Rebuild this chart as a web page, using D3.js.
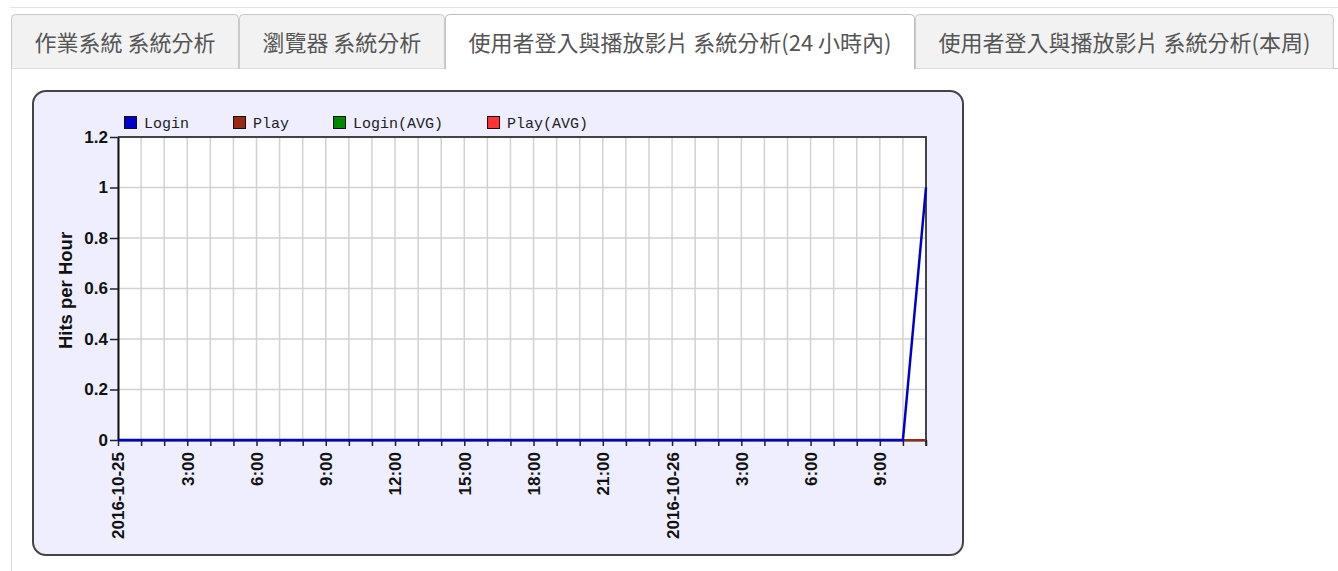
<!DOCTYPE html>
<html>
<head>
<meta charset="utf-8">
<script src="https://cdn.jsdelivr.net/npm/d3@7"></script>
<style>
body { margin: 0; background: #fff; }
svg { display: block; }
</style>
</head>
<body>
<svg id="page" width="1338" height="571"></svg>
<script>
// tabs
var tabNames = ["作業系統 系統分析", "瀏覽器 系統分析", "使用者登入與播放影片 系統分析(24 小時內)", "使用者登入與播放影片 系統分析(本周)"];
var activeTab = 2;

// series
var seriesNames = ["Login", "Play", "Login(AVG)", "Play(AVG)"];
var seriesColors = ["#0000cc", "#992a10", "#008800", "#ff3333"];

var hours = [
  "2016-10-25 00:00", "2016-10-25 01:00", "2016-10-25 02:00", "2016-10-25 03:00",
  "2016-10-25 04:00", "2016-10-25 05:00", "2016-10-25 06:00", "2016-10-25 07:00",
  "2016-10-25 08:00", "2016-10-25 09:00", "2016-10-25 10:00", "2016-10-25 11:00",
  "2016-10-25 12:00", "2016-10-25 13:00", "2016-10-25 14:00", "2016-10-25 15:00",
  "2016-10-25 16:00", "2016-10-25 17:00", "2016-10-25 18:00", "2016-10-25 19:00",
  "2016-10-25 20:00", "2016-10-25 21:00", "2016-10-25 22:00", "2016-10-25 23:00",
  "2016-10-26 00:00", "2016-10-26 01:00", "2016-10-26 02:00", "2016-10-26 03:00",
  "2016-10-26 04:00", "2016-10-26 05:00", "2016-10-26 06:00", "2016-10-26 07:00",
  "2016-10-26 08:00", "2016-10-26 09:00", "2016-10-26 10:00", "2016-10-26 11:00"
];
var loginHits = [0,0,0,0,0,0,0,0,0,0,0,0,0,0,0,0,0,0,0,0,0,0,0,0,0,0,0,0,0,0,0,0,0,0,0,1];
var playHits  = [0,0,0,0,0,0,0,0,0,0,0,0,0,0,0,0,0,0,0,0,0,0,0,0,0,0,0,0,0,0,0,0,0,0,0,0];
var loginAvg  = [0,0,0,0,0,0,0,0,0,0,0,0,0,0,0,0,0,0,0,0,0,0,0,0,0,0,0,0,0,0,0,0,0,0,0,0];
var playAvg   = [0,0,0,0,0,0,0,0,0,0,0,0,0,0,0,0,0,0,0,0,0,0,0,0,0,0,0,0,0,0,0,0,0,0,0,0];

var yTicks = [0, 0.2, 0.4, 0.6, 0.8, 1, 1.2];
var xLabelHours = [0, 3, 6, 9, 12, 15, 18, 21];
var yTitle = "Hits per Hour";

var svg = d3.select("#page");

// ---- tab bar ----
svg.append("line").attr("x1", 10).attr("x2", 1338).attr("y1", 7.5).attr("y2", 7.5)
  .style("stroke", "#e3e3e3").style("stroke-width", 1);
svg.append("line").attr("x1", 11).attr("x2", 1338).attr("y1", 68.5).attr("y2", 68.5)
  .style("stroke", "#c8c8c8");
svg.append("line").attr("x1", 11.5).attr("x2", 11.5).attr("y1", 68).attr("y2", 571)
  .style("stroke", "#d6d6d6");

var tabX = 11;
tabNames.forEach(function(name, i) {
  var g = svg.append("g");
  var t = g.append("text")
    .attr("y", 43)
    .attr("dy", "0.35em")
    .style("font-family", "'Noto Sans CJK TC', sans-serif")
    .style("font-size", "22px")
    .style("fill", "#555")
    .style("text-anchor", "middle")
    .text(name);
  var w = t.node().getComputedTextLength() + 47;
  var x0 = tabX + 0.5, x1 = tabX + w - 0.5, top = 14.5, bot = i === activeTab ? 69.5 : 68.5, r = 4;
  var p = "M" + x0 + "," + bot + "L" + x0 + "," + (top + r) +
    "Q" + x0 + "," + top + " " + (x0 + r) + "," + top +
    "L" + (x1 - r) + "," + top + "Q" + x1 + "," + top + " " + x1 + "," + (top + r) +
    "L" + x1 + "," + bot;
  g.insert("path", "text").attr("d", p)
    .style("fill", i === activeTab ? "#fff" : "#f2f2f2")
    .style("stroke", i === activeTab ? "#bdbdbd" : "#c8c8c8");
  t.attr("x", tabX + w / 2);
  tabX += w;
});

// ---- chart panel ----
svg.append("rect")
  .attr("x", 33).attr("y", 91).attr("width", 930).attr("height", 464)
  .attr("rx", 13).attr("ry", 13)
  .style("fill", "#eeeefe").style("stroke", "#444").style("stroke-width", 2);

var margin = { left: 118, right: 926, top: 137, bottom: 440 };
var parseT = d3.timeParse("%Y-%m-%d %H:%M");
var times = hours.map(parseT);

var x = d3.scaleTime().domain([times[0], times[times.length - 1]]).range([margin.left, margin.right]);
var y = d3.scaleLinear().domain([0, 1.2]).range([margin.bottom, margin.top]);

var plot = svg.append("g");
plot.append("rect")
  .attr("x", margin.left).attr("y", margin.top)
  .attr("width", margin.right - margin.left).attr("height", margin.bottom - margin.top)
  .style("fill", "#fff");

// grid
plot.selectAll(".vgrid").data(times).enter().append("line")
  .attr("x1", function(d) { return x(d); }).attr("x2", function(d) { return x(d); })
  .attr("y1", margin.top).attr("y2", margin.bottom)
  .style("stroke", "#d2d2d2").style("stroke-width", 1.5);
plot.selectAll(".hgrid").data(yTicks).enter().append("line")
  .attr("x1", margin.left).attr("x2", margin.right)
  .attr("y1", function(d) { return y(d); }).attr("y2", function(d) { return y(d); })
  .style("stroke", "#d2d2d2").style("stroke-width", 1.5);

// frame top/right
plot.append("path")
  .attr("d", "M" + margin.left + "," + margin.top + "H" + margin.right + "V" + (margin.bottom + 6))
  .style("fill", "none").style("stroke", "#444").style("stroke-width", 2);

// axes
var fmtDay = d3.timeFormat("%Y-%m-%d"), fmtHour = d3.timeFormat("%-H:%M");
var xAxis = svg.append("g")
  .attr("transform", "translate(0," + margin.bottom + ")")
  .call(d3.axisBottom(x).tickValues(times).tickSize(6).tickSizeOuter(0)
    .tickFormat(function(d) {
      var h = d.getHours();
      if (xLabelHours.indexOf(h) < 0) return "";
      return h === 0 ? fmtDay(d) : fmtHour(d);
    }));
xAxis.selectAll("text")
  .attr("transform", "rotate(-90)")
  .attr("x", -12).attr("y", 0).attr("dy", "0.35em")
  .style("text-anchor", "end");

var yAxis = svg.append("g")
  .attr("transform", "translate(" + margin.left + ",0)")
  .call(d3.axisLeft(y).tickValues(yTicks).tickSize(8).tickPadding(2).tickSizeOuter(0)
    .tickFormat(d3.format("")));

[xAxis, yAxis].forEach(function(a) {
  a.style("font-family", "'Liberation Sans', Arial, sans-serif")
    .style("font-size", "17px").style("font-weight", "bold");
  a.selectAll("text").style("fill", "#111");
  a.selectAll("line").style("stroke", "#222").style("stroke-width", 1.5);
  a.select(".domain").style("stroke", "#111").style("stroke-width", 2);
});

svg.append("text")
  .attr("transform", "translate(66," + ((margin.top + margin.bottom) / 2 + 2) + ") rotate(-90)")
  .attr("dy", "0.35em")
  .style("text-anchor", "middle")
  .style("font-family", "'Liberation Sans', Arial, sans-serif")
  .style("font-size", "18.5px").style("font-weight", "bold")
  .style("fill", "#111")
  .text(yTitle);

// lines (drawn under to over)
var seriesValues = [loginHits, playHits, loginAvg, playAvg];
var line = d3.line()
  .x(function(d, i) { return x(times[i]); })
  .y(function(d) { return y(d); });
[3, 2, 1, 0].forEach(function(k) {
  svg.append("path")
    .datum(seriesValues[k])
    .attr("d", line)
    .style("fill", "none")
    .style("stroke", seriesColors[k])
    .style("stroke-width", k === 0 ? 2.5 : 2);
});

// legend
var lx = 124;
seriesNames.forEach(function(name, i) {
  svg.append("rect")
    .attr("x", lx + 0.5).attr("y", 116.5).attr("width", 12).attr("height", 12)
    .style("fill", seriesColors[i]).style("stroke", "#111");
  var t = svg.append("text")
    .attr("x", lx + 20).attr("y", 128)
    .style("font-family", "'Liberation Mono', 'DejaVu Sans Mono', monospace")
    .style("font-size", "15px")
    .style("fill", "#222")
    .text(name);
  lx = lx + 20 + t.node().getComputedTextLength() + 44;
});
</script>
</body>
</html>
